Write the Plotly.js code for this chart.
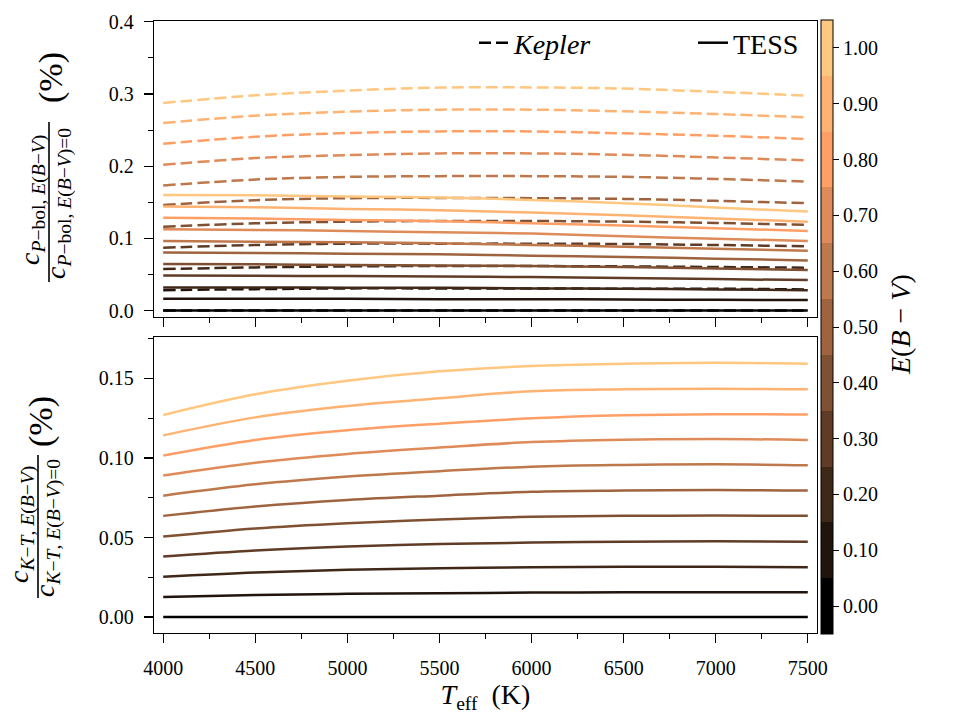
<!DOCTYPE html>
<html><head><meta charset="utf-8">
<script src="https://cdn.plot.ly/plotly-3.0.1.min.js"></script>
<style>html,body{margin:0;padding:0;background:#fff}</style>
</head><body><div id="chart" style="width:961px;height:721px"></div>
<script>
// ---- data ----
const teff = [4000, 4500, 5000, 5500, 6000, 6500, 7000, 7500];
const ebvValues = [0.0, 0.1, 0.2, 0.3, 0.4, 0.5, 0.6, 0.7, 0.8, 0.9, 1.0];
const ebvTickText = ["0.00","0.10","0.20","0.30","0.40","0.50","0.60","0.70","0.80","0.90","1.00"];
const xTickVals = [4000, 4500, 5000, 5500, 6000, 6500, 7000, 7500];

// Kepler, c_{P-bol} ratio (%) — one row per E(B-V)
const keplerPbol = [
  [0, 0, 0, 0, 0, 0, 0, 0],
  [0.0282, 0.0296, 0.0306, 0.0306, 0.0306, 0.0301, 0.0301, 0.0292],
  [0.0574, 0.0597, 0.0611, 0.0616, 0.0616, 0.0611, 0.0602, 0.0593],
  [0.0870, 0.0907, 0.0926, 0.0926, 0.0926, 0.0921, 0.0907, 0.0889],
  [0.1161, 0.1208, 0.1231, 0.1240, 0.1240, 0.1231, 0.1213, 0.1185],
  [0.1463, 0.1528, 0.1556, 0.1560, 0.1556, 0.1546, 0.1519, 0.1486],
  [0.1731, 0.1814, 0.1851, 0.1861, 0.1861, 0.1851, 0.1823, 0.1786],
  [0.2018, 0.2111, 0.2152, 0.2176, 0.2176, 0.2157, 0.2120, 0.2079],
  [0.2310, 0.2407, 0.2458, 0.2481, 0.2481, 0.2454, 0.2421, 0.2375],
  [0.2597, 0.2699, 0.2754, 0.2782, 0.2782, 0.2759, 0.2722, 0.2675],
  [0.2875, 0.2980, 0.3046, 0.3088, 0.3090, 0.3074, 0.3028, 0.2976]
];
// TESS, c_{P-bol} ratio (%)
const tessPbol = [
  [0, 0, 0, 0, 0, 0, 0, 0],
  [0.0162, 0.0162, 0.0162, 0.0157, 0.0157, 0.0153, 0.0148, 0.0144],
  [0.0319, 0.0319, 0.0315, 0.0315, 0.0306, 0.0301, 0.0292, 0.0282],
  [0.0486, 0.0481, 0.0477, 0.0472, 0.0463, 0.0449, 0.0435, 0.0421],
  [0.0643, 0.0639, 0.0630, 0.0625, 0.0616, 0.0602, 0.0583, 0.0560],
  [0.0805, 0.0796, 0.0787, 0.0778, 0.0759, 0.0741, 0.0718, 0.0694],
  [0.0963, 0.0954, 0.0944, 0.0931, 0.0907, 0.0884, 0.0856, 0.0829],
  [0.1125, 0.1116, 0.1102, 0.1083, 0.1065, 0.1028, 0.0995, 0.0963],
  [0.1286, 0.1273, 0.1255, 0.1236, 0.1208, 0.1176, 0.1139, 0.1102],
  [0.1439, 0.1430, 0.1407, 0.1389, 0.1356, 0.1319, 0.1273, 0.1231],
  [0.1601, 0.1597, 0.1579, 0.1565, 0.1532, 0.1486, 0.1426, 0.1370]
];
// c_{K-T} ratio (%)
const ktRatio = [
  [0, 0, 0, 0, 0, 0, 0, 0],
  [0.0126, 0.0138, 0.0146, 0.0150, 0.0154, 0.0156, 0.0156, 0.0156],
  [0.0253, 0.0280, 0.0297, 0.0307, 0.0313, 0.0316, 0.0316, 0.0313],
  [0.0380, 0.0418, 0.0443, 0.0459, 0.0468, 0.0474, 0.0476, 0.0474],
  [0.0506, 0.0557, 0.0590, 0.0613, 0.0630, 0.0636, 0.0638, 0.0636],
  [0.0636, 0.0695, 0.0736, 0.0763, 0.0787, 0.0795, 0.0799, 0.0795],
  [0.0763, 0.0834, 0.0883, 0.0917, 0.0945, 0.0956, 0.0960, 0.0954],
  [0.0889, 0.0970, 0.1025, 0.1065, 0.1100, 0.1115, 0.1119, 0.1113],
  [0.1015, 0.1113, 0.1174, 0.1215, 0.1249, 0.1268, 0.1275, 0.1273],
  [0.1142, 0.1255, 0.1326, 0.1375, 0.1419, 0.1431, 0.1435, 0.1431],
  [0.1270, 0.1400, 0.1485, 0.1544, 0.1578, 0.1592, 0.1598, 0.1592]
];

// ---- styling ----
function copper(t) {
  const r = Math.round(Math.min(1, 1.25 * t) * 255);
  const g = Math.round(0.7812 * t * 255);
  const b = Math.round(0.4975 * t * 255);
  return `rgb(${r},${g},${b})`;
}
const FONT = 'Liberation Serif, Times New Roman, serif';
const LW = 2.5;
const DASH = '12px,5px';

const traces = [];
ebvValues.forEach((e, i) => {
  const col = copper(e);
  traces.push({x: teff, y: keplerPbol[i], xaxis: 'x', yaxis: 'y', mode: 'lines',
    line: {color: col, width: LW, dash: DASH, shape: 'spline'}, showlegend: false, hoverinfo: 'skip'});
  traces.push({x: teff, y: tessPbol[i], xaxis: 'x', yaxis: 'y', mode: 'lines',
    line: {color: col, width: LW, shape: 'spline'}, showlegend: false, hoverinfo: 'skip'});
});
ebvValues.forEach((e, i) => {
  traces.push({x: teff, y: ktRatio[i], xaxis: 'x2', yaxis: 'y2', mode: 'lines',
    line: {color: copper(e), width: LW, shape: 'spline'}, showlegend: false, hoverinfo: 'skip'});
});

// legend entries
traces.push({x: [null], y: [null], xaxis: 'x', yaxis: 'y', mode: 'lines', name: '<i>Kepler</i>',
  line: {color: 'black', width: LW, dash: DASH}, legend: 'legend'});
traces.push({x: [null], y: [null], xaxis: 'x', yaxis: 'y', mode: 'lines', name: 'TESS',
  line: {color: 'black', width: LW}, legend: 'legend2'});

// discrete colour bar
const n = ebvValues.length;
const cscale = [];
ebvValues.forEach((e, i) => {
  cscale.push([i / n, copper(e)]);
  cscale.push([(i + 1) / n, copper(e)]);
});
traces.push({x: [null], y: [null], xaxis: 'x2', yaxis: 'y2', mode: 'markers', showlegend: false, hoverinfo: 'skip',
  marker: {color: [0], cmin: -0.05, cmax: 1.05, colorscale: cscale, showscale: true,
    colorbar: {x: 1.006, xanchor: 'left', xpad: 0, y: 0.5, yanchor: 'middle', ypad: 0,
      len: 614, lenmode: 'pixels', thickness: 12, thicknessmode: 'pixels',
      outlinewidth: 1, outlinecolor: 'black',
      tickmode: 'array', tickvals: ebvValues, ticktext: ebvTickText,
      ticks: 'outside', ticklen: 6, tickwidth: 1, tickcolor: 'black',
      tickfont: {family: FONT, size: 20, color: 'black'}}}});

// ---- layout ----
const L = 154, R = 817, T = 21, B = 633;
const px = v => (v - L) / (R - L);
const py = v => (B - v) / (B - T);

const axBase = {showline: true, mirror: true, linecolor: 'black', linewidth: 1.3, showgrid: false, zeroline: false,
  ticks: 'outside', ticklen: 9, tickwidth: 1.2, tickcolor: 'black'};

const layout = {
  width: 961, height: 721,
  margin: {l: L, r: 961 - R, t: T, b: 721 - B},
  paper_bgcolor: 'white', plot_bgcolor: 'white',
  font: {family: FONT, size: 20, color: 'black'},
  xaxis: Object.assign({}, axBase, {anchor: 'y', domain: [0, 1], range: [3950, 7550],
    tickmode: 'array', tickvals: xTickVals, showticklabels: false,
    minor: {dtick: 250, tick0: 4000, ticks: 'outside', ticklen: 5, tickwidth: 1, tickcolor: 'black'}}),
  xaxis2: Object.assign({}, axBase, {anchor: 'y2', domain: [0, 1], range: [3950, 7550],
    tickmode: 'array', tickvals: xTickVals, ticklabelstandoff: 8,
    minor: {dtick: 250, tick0: 4000, ticks: 'outside', ticklen: 5, tickwidth: 1, tickcolor: 'black'},
    title: {text: '<i>T</i><sub>eff</sub>  (K)', font: {family: FONT, size: 28}, standoff: 6}}),
  yaxis: Object.assign({}, axBase, {anchor: 'x', domain: [py(317), 1], range: [-0.009, 0.401],
    dtick: 0.1, tick0: 0, tickformat: '.1f', ticklabelstandoff: 6,
    minor: {dtick: 0.05, tick0: 0, ticks: 'outside', ticklen: 5, tickwidth: 1, tickcolor: 'black'}}),
  yaxis2: Object.assign({}, axBase, {anchor: 'x2', domain: [0, py(337)], range: [-0.010, 0.176],
    dtick: 0.05, tick0: 0, tickformat: '.2f', ticklabelstandoff: 6,
    minor: {dtick: 0.025, tick0: 0, ticks: 'outside', ticklen: 5, tickwidth: 1, tickcolor: 'black'}}),
  legend: {x: px(474), xanchor: 'left', y: py(43), yanchor: 'middle', orientation: 'h',
    bgcolor: 'rgba(0,0,0,0)', borderwidth: 0, font: {family: FONT, size: 28, color: 'black'}},
  legend2: {x: px(693), xanchor: 'left', y: py(43), yanchor: 'middle', orientation: 'h',
    bgcolor: 'rgba(0,0,0,0)', borderwidth: 0, font: {family: FONT, size: 28, color: 'black'}},
  annotations: [
    {text: '<i>c</i><sub><i>P</i>−bol, <i>E</i>(<i>B</i>−<i>V</i>)</sub>', x: px(32), y: py(200), textangle: -90},
    {text: '<i>c</i><sub><i>P</i>−bol, <i>E</i>(<i>B</i>−<i>V</i>)=0</sub>', x: px(58), y: py(203), textangle: -90},
    {text: '(%)', x: px(51), y: py(78), textangle: -90, font: {family: FONT, size: 34, color: 'black'}},
    {text: '<i>c</i><sub><i>K</i>−<i>T</i>, <i>E</i>(<i>B</i>−<i>V</i>)</sub>', x: px(21), y: py(525), textangle: -90},
    {text: '<i>c</i><sub><i>K</i>−<i>T</i>, <i>E</i>(<i>B</i>−<i>V</i>)=0</sub>', x: px(47), y: py(528), textangle: -90},
    {text: '(%)', x: px(41), y: py(422), textangle: -90, font: {family: FONT, size: 34, color: 'black'}},
    {text: '<i>E</i>(<i>B</i> − <i>V</i>)', x: px(900), y: py(325), textangle: -90}
  ].map(a => Object.assign({xref: 'paper', yref: 'paper', showarrow: false, xanchor: 'center', yanchor: 'middle',
    font: {family: FONT, size: 28, color: 'black'}}, a)),
  shapes: [
    {type: 'line', xref: 'paper', yref: 'paper', x0: px(49), x1: px(49), y0: py(122), y1: py(282), line: {color: 'black', width: 1.6}},
    {type: 'line', xref: 'paper', yref: 'paper', x0: px(38), x1: px(38), y0: py(455), y1: py(598), line: {color: 'black', width: 1.6}}
  ]
};

Plotly.newPlot('chart', traces, layout, {displayModeBar: false, staticPlot: true});
</script>
</body></html>
